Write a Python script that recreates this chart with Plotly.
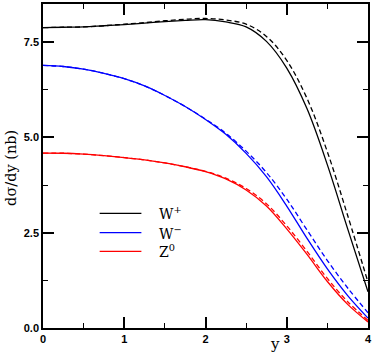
import plotly.graph_objects as go

rapidity = [0.0, 0.25, 0.5, 0.75, 1.0, 1.25, 1.5, 1.75, 2.0, 2.25, 2.5, 2.75, 3.0, 3.25, 3.5, 3.75, 4.0]

wplus_solid = [7.88, 7.89, 7.90, 7.93, 7.96, 8.00, 8.04, 8.07, 8.09, 8.03, 7.90, 7.52, 6.82, 5.75, 4.28, 2.60, 0.95]
wplus_dash = [7.88, 7.89, 7.90, 7.93, 7.97, 8.01, 8.06, 8.10, 8.12, 8.08, 7.97, 7.65, 7.02, 6.02, 4.62, 2.95, 1.20]

wminus_solid = [6.89, 6.86, 6.79, 6.68, 6.54, 6.35, 6.10, 5.81, 5.47, 5.08, 4.58, 3.97, 3.20, 2.35, 1.55, 0.85, 0.26]
wminus_dash = [6.89, 6.86, 6.79, 6.68, 6.54, 6.35, 6.10, 5.81, 5.48, 5.11, 4.64, 4.08, 3.38, 2.57, 1.77, 1.05, 0.40]

z0_solid = [4.59, 4.585, 4.56, 4.52, 4.47, 4.41, 4.33, 4.23, 4.10, 3.91, 3.62, 3.20, 2.60, 1.93, 1.22, 0.62, 0.16]
z0_dash = [4.59, 4.585, 4.56, 4.52, 4.47, 4.41, 4.33, 4.23, 4.11, 3.93, 3.66, 3.26, 2.68, 2.01, 1.30, 0.69, 0.20]

series_names = ["W<sup>+</sup>", "W<sup>\u2212</sup>", "Z<sup>0</sup>"]
series_colors = ["#000000", "#0000ff", "#ff0000"]
solid_sets = [wplus_solid, wminus_solid, z0_solid]
dash_sets = [wplus_dash, wminus_dash, z0_dash]

x_ticks = [0, 1, 2, 3, 4]
y_ticks = [0.0, 2.5, 5.0, 7.5]

fig = go.Figure()
for name, col, sol, das in zip(series_names, series_colors, solid_sets, dash_sets):
    fig.add_trace(go.Scatter(x=rapidity, y=das, mode="lines",
                             line=dict(color=col, width=1.3, dash="5px,3px", shape="spline"),
                             showlegend=False, hoverinfo="skip"))
    fig.add_trace(go.Scatter(x=rapidity, y=sol, mode="lines",
                             line=dict(color=col, width=1.3, shape="spline"),
                             name=name, showlegend=False))

# manual legend
W = 374 - 43 - 4
H = 353 - 2 - 25
leg_y = [212.7, 232.0, 251.0]
for name, col, py in zip(series_names, series_colors, leg_y):
    yp = (353 - 25 - py) / H
    fig.add_shape(type="line", xref="paper", yref="paper",
                  x0=(100 - 43) / W, x1=(142 - 43) / W, y0=yp, y1=yp,
                  line=dict(color=col, width=1.3))
    fig.add_annotation(xref="paper", yref="paper", x=(158 - 43) / W, y=yp, text=name,
                       showarrow=False, xanchor="left", yanchor="middle",
                       font=dict(family="DejaVu Serif", size=14, color="#000000"))

fig.add_annotation(xref="paper", yref="paper", x=(10 - 43) / W, y=(328 - 166.7) / H,
                   text="d\u03c3/dy (nb)", textangle=-90, showarrow=False,
                   xanchor="center", yanchor="middle",
                   font=dict(family="DejaVu Serif", size=14.5, color="#000000"))
fig.add_annotation(xref="x", yref="paper", x=2.85, y=(328 - 344) / H,
                   text="y", showarrow=False, xanchor="center", yanchor="middle",
                   font=dict(family="DejaVu Serif", size=15, color="#000000"))

axis_common = dict(showline=True, linecolor="#000000", linewidth=1.5, mirror="ticks",
                   ticks="inside", ticklen=11, tickwidth=1.5, tickcolor="#000000",
                   showgrid=False, zeroline=False,
                   tickfont=dict(family="Liberation Sans", size=11, color="#000000", weight="bold"))

fig.update_xaxes(range=[0, 4], tickvals=x_ticks, ticktext=[str(v) for v in x_ticks],
                 minor=dict(dtick=0.5, ticks="inside", ticklen=5, tickwidth=1.2,
                            tickcolor="#000000", showgrid=False),
                 **axis_common)
fig.update_yaxes(range=[0, 8.5], tickvals=y_ticks, ticktext=["%.1f" % v for v in y_ticks],
                 minor=dict(dtick=1.25, ticks="inside", ticklen=5, tickwidth=1.2,
                            tickcolor="#000000", showgrid=False),
                 **axis_common)

fig.update_layout(width=374, height=353, margin=dict(l=43, r=4, t=2, b=25),
                  plot_bgcolor="#ffffff", paper_bgcolor="#ffffff", showlegend=False)

fig.write_html("out.html", config={"displayModeBar": False},
               post_script="document.body.style.margin='0px';")
